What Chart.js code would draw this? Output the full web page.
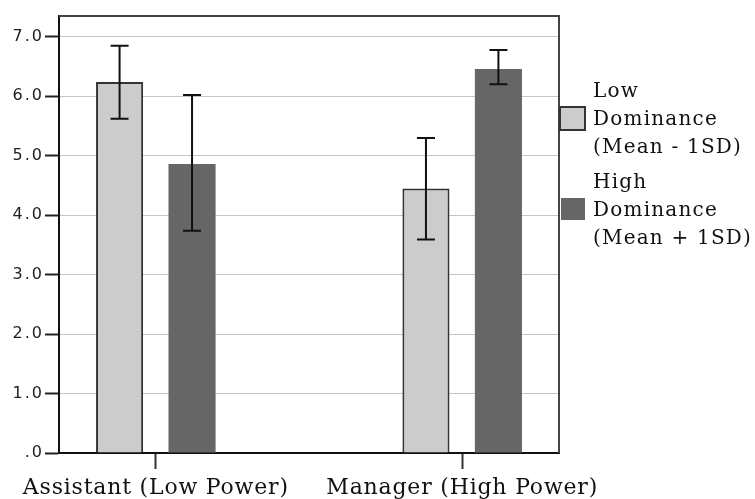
<!DOCTYPE html>
<html lang="en">
<head>
    <meta charset="UTF-8">
    <title>Dominance by Power Role</title>
    <script src="https://cdn.jsdelivr.net/npm/chart.js"></script>
    <style>
        body { margin: 0; background: #fff; }
        .chart-wrap {
            position: relative;
            width: 755px;
            height: 499px;
        }
        .legend {
            position: absolute;
            left: 559px;
            top: 76px;
            font-family: "DejaVu Serif", serif;
            font-size: 20px;
            line-height: 28px;
            letter-spacing: 1.2px;
            color: #111;
        }
        .legend-item {
            display: flex;
            align-items: center;
            margin-bottom: 7px;
        }
        .legend-box {
            box-sizing: border-box;
            width: 27px;
            height: 25px;
            margin-right: 7px;
            flex: none;
        }
    </style>
</head>
<body>
    <div class="chart-wrap">
        <canvas id="powerChart"></canvas>
        <div class="legend" id="legend"></div>
    </div>

    <script>
        // Data
        const categories = ['Assistant (Low Power)', 'Manager (High Power)'];
        const seriesNames = [
            ['Low', 'Dominance', '(Mean - 1SD)'],
            ['High', 'Dominance', '(Mean + 1SD)']
        ];
        const lowDomMeans = [6.24, 4.45];
        const lowDomLower = [5.62, 3.59];
        const lowDomUpper = [6.85, 5.30];
        const highDomMeans = [4.86, 6.46];
        const highDomLower = [3.74, 6.20];
        const highDomUpper = [6.02, 6.78];
        const yTicks = [0, 1, 2, 3, 4, 5, 6, 7];

        const toPoints = arr => arr.map((v, i) => ({ x: i, y: v }));

        // error bars on top of the bars
        const errorBars = {
            id: 'errorBars',
            afterDatasetsDraw(chart) {
                const { ctx } = chart;
                const y = chart.scales.y;
                ctx.save();
                ctx.strokeStyle = '#111';
                ctx.lineWidth = 2;
                chart.data.datasets.forEach((ds, di) => {
                    const meta = chart.getDatasetMeta(di);
                    meta.data.forEach((bar, i) => {
                        const top = y.getPixelForValue(ds.errUpper[i]);
                        const bot = y.getPixelForValue(ds.errLower[i]);
                        const cap = 9;
                        ctx.beginPath();
                        ctx.moveTo(bar.x, top);
                        ctx.lineTo(bar.x, bot);
                        ctx.moveTo(bar.x - cap, top);
                        ctx.lineTo(bar.x + cap, top);
                        ctx.moveTo(bar.x - cap, bot);
                        ctx.lineTo(bar.x + cap, bot);
                        ctx.stroke();
                    });
                });
                ctx.restore();
                // x labels are drawn after this (ticks z: 1)
                ctx.letterSpacing = '0.8px';
            }
        };

        // top and right frame of the plot area
        const frame = {
            id: 'frame',
            beforeDraw(chart) {
                chart.ctx.letterSpacing = '2px';
            },
            afterDraw(chart) {
                const { ctx, chartArea: a } = chart;
                ctx.save();
                ctx.strokeStyle = '#444';
                ctx.lineWidth = 2;
                ctx.beginPath();
                ctx.moveTo(a.left, a.top);
                ctx.lineTo(a.right, a.top);
                ctx.lineTo(a.right, a.bottom);
                ctx.stroke();
                ctx.restore();
            }
        };

        const config = {
            type: 'bar',
            data: {
                datasets: [
                    {
                        label: seriesNames[0].join(' '),
                        data: toPoints(lowDomMeans),
                        errLower: lowDomLower,
                        errUpper: lowDomUpper,
                        backgroundColor: '#cccccc',
                        borderColor: '#333333',
                        borderWidth: 2
                    },
                    {
                        label: seriesNames[1].join(' '),
                        data: toPoints(highDomMeans),
                        errLower: highDomLower,
                        errUpper: highDomUpper,
                        backgroundColor: '#666666',
                        borderWidth: 0
                    }
                ]
            },
            options: {
                responsive: true,
                maintainAspectRatio: false,
                animation: false,
                categoryPercentage: 0.473,
                barPercentage: 0.65,
                layout: { padding: { left: 0, top: 16, right: 196, bottom: 0 } },
                plugins: {
                    legend: { display: false },
                    tooltip: { enabled: false }
                },
                scales: {
                    x: {
                        type: 'linear',
                        min: -0.316,
                        max: 1.316,
                        offset: false,
                        afterBuildTicks: scale => {
                            scale.ticks = categories.map((c, i) => ({ value: i }));
                        },
                        afterFit: scale => { scale.height = 46; },
                        border: { color: '#111', width: 2 },
                        grid: {
                            offset: false,
                            drawOnChartArea: false,
                            tickLength: 16,
                            tickColor: '#333',
                            tickWidth: 2
                        },
                        ticks: {
                            z: 1,
                            autoSkip: false,
                            maxRotation: 0,
                            padding: 6,
                            color: '#111',
                            font: { family: '"DejaVu Serif", serif', size: 22 },
                            callback: v => categories[v]
                        }
                    },
                    y: {
                        min: 0,
                        max: 7.35,
                        afterBuildTicks: scale => {
                            scale.ticks = yTicks.map(v => ({ value: v }));
                        },
                        afterFit: scale => { scale.width = 59; },
                        border: { color: '#111', width: 2 },
                        grid: {
                            color: '#c4c4c4',
                            lineWidth: 1,
                            tickLength: 14,
                            tickColor: '#222',
                            tickWidth: 2
                        },
                        ticks: {
                            padding: 1,
                            color: '#222',
                            font: { family: '"DejaVu Sans", sans-serif', size: 16 },
                            callback: v => v === 0 ? '.0' : v.toFixed(1)
                        }
                    }
                }
            },
            plugins: [errorBars, frame]
        };

        new Chart(document.getElementById('powerChart'), config);

        // legend with the three-line labels
        const legendColors = [
            { bg: '#cccccc', border: '2px solid #333' },
            { bg: '#666666', border: 'none' }
        ];
        const legendEl = document.getElementById('legend');
        seriesNames.forEach((lines, i) => {
            const item = document.createElement('div');
            item.className = 'legend-item';
            const box = document.createElement('div');
            box.className = 'legend-box';
            box.style.background = legendColors[i].bg;
            box.style.border = legendColors[i].border;
            if (i === 1) {
                box.style.width = '24px';
                box.style.height = '22px';
                box.style.marginLeft = '2px';
                box.style.marginRight = '8px';
            }
            const text = document.createElement('div');
            text.innerHTML = lines.join('<br>');
            item.appendChild(box);
            item.appendChild(text);
            legendEl.appendChild(item);
        });
    </script>
</body>
</html>
